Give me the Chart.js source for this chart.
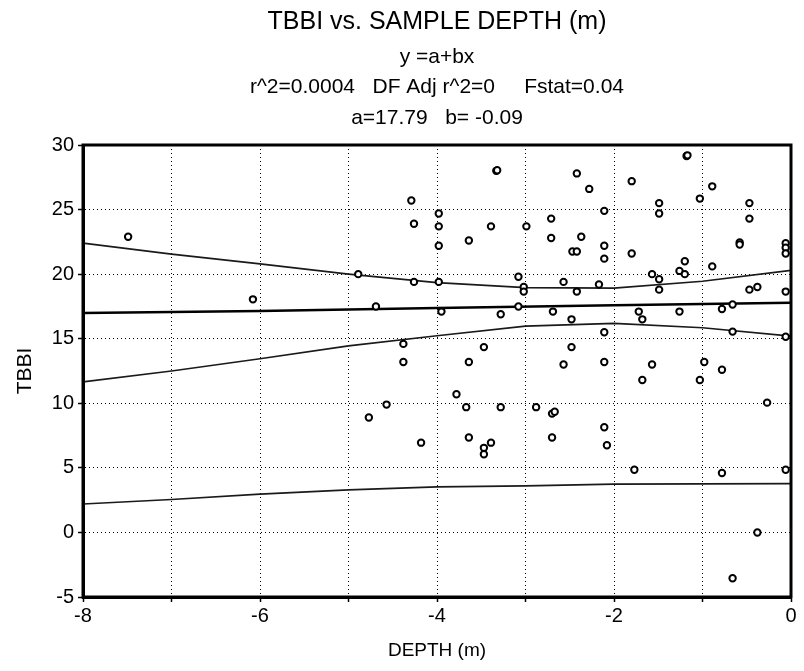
<!DOCTYPE html>
<html>
<head>
<meta charset="utf-8">
<script src="https://cdn.jsdelivr.net/npm/chart.js@4.4.1/dist/chart.umd.min.js"></script>
<style>
    html, body { margin: 0; padding: 0; background: #fff; }
</style>
</head>
<body>
<canvas id="tbbiChart" width="804" height="671"></canvas>
<script>
// sample points
const depth = [
    -7.49, -6.08, -3.33, -3.32, -4.29, -3.98, -4.26, -3.98, -3.39, -2.99,
    -3.64, -3.98, -2.71, -2.71, -1.18, -1.17, -2.42, -2.28, -1.80, -0.89,
    -1.03, -1.49, -1.49, -0.47, -0.47, -2.11, -2.37, -2.47, -2.42, -2.11,
    -2.11, -1.80, -0.58, -0.58, -0.06, -0.06, -0.06, -4.89, -4.26, -3.98,
    -3.08, -3.02, -3.02, -4.69, -3.95, -3.28, -3.08, -2.69, -4.38, -4.38,
    -3.47, -3.64, -3.78, -3.67, -4.57, -4.77, -3.28, -2.88, -4.18, -3.64,
    -3.47, -3.39, -3.47, -2.70, -1.20, -1.26, -1.20, -0.89, -2.57, -2.42,
    -2.17, -1.57, -1.49, -1.49, -0.47, -0.38, -0.06, -2.48, -1.72, -1.68,
    -1.26, -0.78, -0.66, -2.11, -0.66, -0.06, -2.48, -2.57, -2.11, -1.57,
    -1.68, -0.98, -1.03, -0.78, -0.27, -2.70, -2.67, -2.11, -2.08, -1.77,
    -0.78, -0.06, -0.38, -0.66
];
const tbbi = [
    22.9, 18.05, 28.0, 28.05, 25.7, 24.7, 23.9, 23.7, 23.7, 23.7,
    22.6, 22.2, 24.3, 22.8, 29.15, 29.2, 27.8, 26.6, 27.2, 26.8,
    25.85, 25.5, 24.7, 25.5, 24.3, 24.9, 22.9, 21.75, 21.75, 22.2,
    21.2, 21.6, 22.45, 22.3, 22.4, 22.05, 21.6, 20.0, 19.4, 19.4,
    19.8, 19.0, 18.65, 17.5, 17.1, 16.9, 17.5, 17.1, 14.6, 13.2,
    14.35, 13.2, 10.7, 9.7, 9.9, 8.9, 9.7, 9.7, 6.95, 7.35,
    6.55, 6.95, 6.05, 7.35, 21.0, 20.25, 20.0, 20.6, 19.4, 18.65,
    19.2, 20.0, 19.6, 18.8, 18.8, 19.0, 18.65, 16.5, 17.1, 16.5,
    17.1, 17.3, 17.65, 15.5, 15.55, 15.15, 14.35, 13.0, 13.2, 13.0,
    11.8, 13.2, 11.8, 12.6, 10.05, 9.2, 9.35, 8.15, 6.75, 4.85,
    4.6, 4.85, 0.0, -3.55
];

// fitted line and its bands, read at a few depths
const fitDepth = [-8, -6, -4, -2, 0];
const fitLine = [17.0, 17.15, 17.38, 17.6, 17.78];
const bandDepth = [-8, -7, -6, -5, -4, -3, -2, -1, 0];
const ciUpper = [22.4, 21.55, 20.8, 20.0, 19.35, 18.95, 18.92, 19.45, 20.3];
const ciLower = [11.65, 12.5, 13.45, 14.45, 15.23, 15.98, 16.19, 15.85, 15.2];
const piLower = [2.2, 2.55, 2.96, 3.3, 3.53, 3.6, 3.74, 3.76, 3.78];

const yTicks = [-5, 0, 5, 10, 15, 20, 25, 30];

const titleText = 'TBBI vs. SAMPLE DEPTH (m)';
const subtitleLines = [
    'y =a+bx',
    'r^2=0.0004   DF Adj r^2=0     Fstat=0.04',
    'a=17.79   b= -0.09'
];

const FONT = "'Liberation Sans', Arial, sans-serif";

function pairs(xs, ys) {
    return xs.map((x, i) => ({ x: x, y: ys[i] }));
}

// thick box round the plot area
const frame = {
    id: 'frame',
    afterDraw(chart) {
        const { ctx, chartArea } = chart;
        ctx.save();
        ctx.strokeStyle = '#000';
        ctx.lineWidth = 3;
        ctx.strokeRect(chartArea.left, chartArea.top, chartArea.right - chartArea.left, chartArea.bottom - chartArea.top);
        ctx.restore();
    }
};

// title block, centred over the plot area rather than the canvas
const headings = {
    id: 'headings',
    afterDraw(chart) {
        const { ctx, chartArea } = chart;
        const cx = (chartArea.left + chartArea.right) / 2;
        ctx.save();
        ctx.fillStyle = '#000';
        ctx.textAlign = 'center';
        ctx.textBaseline = 'middle';
        ctx.font = '25px ' + FONT;
        ctx.fillText(titleText, cx, 22);
        ctx.font = '21px ' + FONT;
        subtitleLines.forEach((line, i) => {
            ctx.fillText(line, cx, 57 + i * 30.5);
        });
        ctx.restore();
    }
};

const bandStyle = {
    showLine: true,
    pointRadius: 0,
    borderColor: '#1a1a1a',
    borderWidth: 1.7,
    fill: false,
    tension: 0
};

new Chart(document.getElementById('tbbiChart'), {
    type: 'scatter',
    data: {
        datasets: [
            {
                label: 'TBBI',
                data: pairs(depth, tbbi),
                pointRadius: 3.2,
                pointBorderWidth: 2,
                borderColor: '#000',
                backgroundColor: '#fff'
            },
            Object.assign({ label: 'fit', data: pairs(fitDepth, fitLine) }, bandStyle, { borderColor: '#000', borderWidth: 2.5 }),
            Object.assign({ label: 'ci upper', data: pairs(bandDepth, ciUpper) }, bandStyle),
            Object.assign({ label: 'ci lower', data: pairs(bandDepth, ciLower) }, bandStyle),
            Object.assign({ label: 'pi lower', data: pairs(bandDepth, piLower) }, bandStyle)
        ]
    },
    options: {
        responsive: false,
        animation: false,
        devicePixelRatio: 1,
        layout: {
            padding: { top: 145, right: 13, bottom: 0, left: 0 }
        },
        plugins: {
            legend: { display: false },
            tooltip: { enabled: false },
            title: { display: false }
        },
        scales: {
            x: {
                type: 'linear',
                min: -8,
                max: 0,
                afterFit: (scale) => { scale.height = 74; },
                ticks: {
                    stepSize: 1,
                    autoSkip: false,
                    maxRotation: 0,
                    padding: 2,
                    color: '#000',
                    font: { family: FONT, size: 20 },
                    callback: (v) => (Math.abs(v % 2) < 1e-9 ? String(v) : '')
                },
                grid: {
                    color: '#000',
                    lineWidth: 1,
                    tickLength: 5,
                    tickColor: '#000',
                    tickWidth: 1.5
                },
                border: { color: '#000', width: 3, dash: [1, 3] },
                title: {
                    display: true,
                    text: 'DEPTH (m)',
                    color: '#000',
                    font: { family: FONT, size: 19 },
                    padding: { top: 0, bottom: 9 }
                }
            },
            y: {
                type: 'linear',
                min: -5,
                max: 30,
                afterFit: (scale) => { scale.width = 83; },
                afterBuildTicks: (scale) => { scale.ticks = yTicks.map(v => ({ value: v })); },
                ticks: {
                    padding: 4,
                    color: '#000',
                    font: { family: FONT, size: 20 }
                },
                grid: {
                    color: '#000',
                    lineWidth: 1,
                    tickLength: 5,
                    tickColor: '#000',
                    tickWidth: 1.5
                },
                border: { color: '#000', width: 3, dash: [1, 3] },
                title: {
                    display: true,
                    text: 'TBBI',
                    color: '#000',
                    font: { family: FONT, size: 21 },
                    padding: { top: 13, bottom: 0 }
                }
            }
        }
    },
    plugins: [frame, headings]
});
</script>
</body>
</html>
